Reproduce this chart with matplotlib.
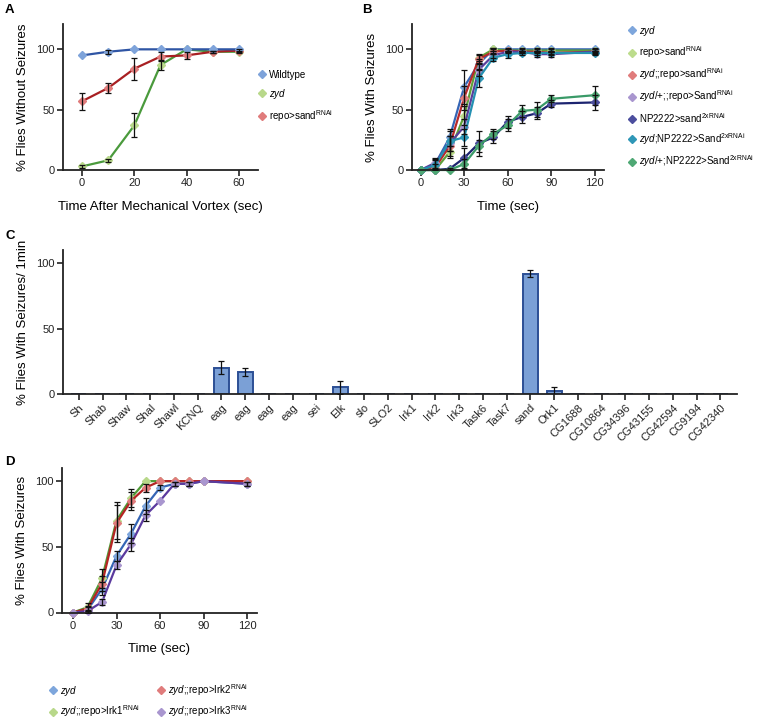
import matplotlib
matplotlib.use("Agg")
import matplotlib.pyplot as plt
from matplotlib.lines import Line2D
import numpy as np

plt.rcParams['font.family'] = ['Liberation Sans', 'DejaVu Sans']
plt.rcParams['mathtext.fontset'] = 'custom'
plt.rcParams['mathtext.rm'] = 'Liberation Sans'
plt.rcParams['mathtext.it'] = 'Liberation Sans:italic'
plt.rcParams['mathtext.bf'] = 'Liberation Sans:bold'

# ---------------- Data ----------------
# Panel A
a_x = [0, 10, 20, 30, 40, 50, 60]
a_wt = [95, 98, 100, 100, 100, 100, 100]
a_wt_err = [0, 1.5, 0, 0, 0, 0, 0]
a_zyd = [3, 8, 37, 87, 100, 98, 98]
a_zyd_err = [1.5, 1.5, 10, 4, 0, 1, 1]
a_repo = [57, 68, 84, 94, 95, 98, 99]
a_repo_err = [7, 4.5, 9, 4, 3, 1, 1]
a_labels = ['Wildtype', r'$\mathit{zyd}$', r'repo>sand$^{\mathrm{RNAi}}$']

# Panel B
b_x = [0, 10, 20, 30, 40, 50, 60, 70, 80, 90, 120]
b_zyd = [0, 5, 27, 69, 88, 100, 100, 100, 100, 100, 100]
b_repo = [0, 0, 15, 45, 93, 100, 99, 99, 99, 99, 99]
b_zyd_repo = [0, 2, 20, 60, 92, 98, 99, 98, 98, 97, 98]
b_het_repo = [0, 6, 22, 36, 83, 95, 98, 98, 96, 96, 98]
b_np = [0, 0, 1, 10, 22, 27, 40, 44, 47, 55, 56]
b_zyd_np = [0, 4, 24, 27, 76, 93, 96, 97, 97, 97, 97]
b_het_np = [0, 0, 0, 5, 20, 30, 37, 49, 50, 59, 62]
b_zyd_err = [0, 4, 7, 14, 4, 1, 1, 1, 1, 1, 1]
b_repo_err = [0, 0, 5, 8, 3, 1, 1, 1, 1, 1, 1]
b_zyd_repo_err = [0, 3, 8, 10, 3, 2, 1, 1, 1, 1, 1]
b_het_repo_err = [0, 4, 6, 6, 5, 2, 1, 1, 2, 2, 2]
b_np_err = [0, 0, 1, 8, 10, 5, 5, 5, 5, 3, 6]
b_zyd_np_err = [0, 4, 8, 7, 7, 3, 3, 2, 2, 2, 2]
b_het_np_err = [0, 0, 0, 4, 5, 4, 5, 5, 6, 3, 8]
b_labels = [r'$\mathit{zyd}$',
            r'repo>sand$^{\mathrm{RNAi}}$',
            r'$\mathit{zyd}$;;repo>sand$^{\mathrm{RNAi}}$',
            r'$\mathit{zyd/}$+;;repo>Sand$^{\mathrm{RNAi}}$',
            r'NP2222>sand$^{\mathrm{2xRNAi}}$',
            r'$\mathit{zyd}$;NP2222>Sand$^{\mathrm{2xRNAi}}$',
            r'$\mathit{zyd/}$+;NP2222>Sand$^{\mathrm{2xRNAi}}$']

# Panel C
c_genes = ['Sh', 'Shab', 'Shaw', 'Shal', 'Shawl', 'KCNQ', 'eag', 'eag', 'eag', 'eag',
           'sei', 'Elk', 'slo', 'SLO2', 'Irk1', 'Irk2', 'Irk3', 'Task6', 'Task7', 'sand',
           'Ork1', 'CG1688', 'CG10864', 'CG34396', 'CG43155', 'CG42594', 'CG9194', 'CG42340']
c_vals = [0, 0, 0, 0, 0, 0, 20, 17, 0, 0, 0, 5, 0, 0, 0, 0, 0, 0, 0, 92,
          2, 0, 0, 0, 0, 0, 0, 0]
c_err = [0, 0, 0, 0, 0, 0, 5, 3, 0, 0, 0, 5, 0, 0, 0, 0, 0, 0, 0, 3,
         3, 0, 0, 0, 0, 0, 0, 0]

# Panel D
d_x = [0, 10, 20, 30, 40, 50, 60, 70, 80, 90, 120]
d_zyd = [0, 2, 18, 43, 60, 81, 95, 98, 98, 100, 98]
d_zyd_err = [0, 2, 5, 4, 7, 6, 2, 1.5, 1.5, 0, 1.5]
d_irk1 = [0, 4, 26, 70, 87, 100, 100, 100, 100, 100, 100]
d_irk1_err = [0, 3, 7, 14, 7, 0, 0, 0, 0, 0, 0]
d_irk2 = [0, 3, 22, 68, 85, 95, 100, 100, 100, 100, 100]
d_irk2_err = [0, 2, 6, 14, 7, 3, 0, 0, 0, 0, 0]
d_irk3 = [0, 1, 8, 36, 52, 74, 85, 98, 98, 100, 98]
d_irk3_err = [0, 1, 2, 3, 5, 4, 0, 1.5, 1.5, 0, 1.5]
d_labels = [r'$\mathit{zyd}$', r'$\mathit{zyd}$;;repo>Irk1$^{\mathrm{RNAi}}$',
            r'$\mathit{zyd}$;;repo>Irk2$^{\mathrm{RNAi}}$', r'$\mathit{zyd}$;;repo>Irk3$^{\mathrm{RNAi}}$']

# ---------------- Figure ----------------
W, H = 763, 725
fig = plt.figure(figsize=(W / 100, H / 100), dpi=100)


def px_axes(l, r, t, b):
    return fig.add_axes([l / W, 1 - b / H, (r - l) / W, (b - t) / H])


TICK_FS = 8
LABEL_FS = 9.5
LEG_FS = 7


def style(ax):
    for s in ['top', 'right']:
        ax.spines[s].set_visible(False)
    for s in ['left', 'bottom']:
        ax.spines[s].set_linewidth(1.3)
        ax.spines[s].set_color('#222222')
    ax.tick_params(direction='out', length=4, width=1.2, labelsize=TICK_FS,
                   colors='#222222', pad=2)


def series(ax, x, y, err, line_c, mark_c, z=2):
    ax.plot(x, y, color=line_c, lw=1.6, marker='D', ms=3.8, mfc=mark_c, mec=mark_c,
            zorder=z, clip_on=False)
    e = np.array(err, dtype=float)
    mask = e > 0
    xs = np.array(x)[mask]
    ys = np.array(y)[mask]
    ax.errorbar(xs, ys, yerr=e[mask], fmt='none', ecolor='#111111', elinewidth=0.9,
                capsize=2, capthick=0.9, zorder=z + 5)


def marker_handle(c):
    return Line2D([], [], ls='none', marker='D', ms=4.2, mfc=c, mec=c)


# Panel A
axA = px_axes(63, 258, 24, 170)
style(axA)
cA = [('#2f55a4', '#7ea3da'), ('#4a9a3c', '#b8d88a'), ('#a81f22', '#e07c7c')]
series(axA, a_x, a_wt, a_wt_err, *cA[0], z=3)
series(axA, a_x, a_zyd, a_zyd_err, *cA[1], z=2)
series(axA, a_x, a_repo, a_repo_err, *cA[2], z=2)
axA.set_xlim(-7.3, 67.3)
axA.set_ylim(0, 121)
axA.set_xticks([0, 20, 40, 60])
axA.set_yticks([0, 50, 100])
axA.set_xlabel('Time After Mechanical Vortex (sec)', fontsize=LABEL_FS, labelpad=9)
axA.set_ylabel('% Flies Without Seizures', fontsize=LABEL_FS, labelpad=5)
fig.legend([marker_handle(c[1]) for c in cA], a_labels, loc='upper left',
           bbox_to_anchor=(248 / W, 1 - 61 / H), frameon=False, fontsize=LEG_FS,
           handlelength=1.0, handletextpad=0.3, labelspacing=0.72)

# Panel B
axB = px_axes(412, 604, 24, 170)
style(axB)
cB = [('#3565b5', '#7ea6dc'),
      ('#5fa03a', '#bcdc8c'),
      ('#b82a2a', '#e07c7c'),
      ('#5a3f9c', '#a996cf'),
      ('#1d2470', '#4c4e9e'),
      ('#2490b2', '#2f97b7'),
      ('#3a9a68', '#4ea874')]
b_series = [(b_zyd, b_zyd_err), (b_repo, b_repo_err), (b_zyd_repo, b_zyd_repo_err),
            (b_het_repo, b_het_repo_err), (b_np, b_np_err), (b_zyd_np, b_zyd_np_err),
            (b_het_np, b_het_np_err)]
for (yv, ev), (lc, mc) in zip(b_series, cB):
    series(axB, b_x, yv, ev, lc, mc)
axB.set_xlim(-6, 126.4)
axB.set_ylim(0, 121)
axB.set_xticks([0, 30, 60, 90, 120])
axB.set_yticks([0, 50, 100])
axB.set_xlabel('Time (sec)', fontsize=LABEL_FS, labelpad=9)
axB.set_ylabel('% Flies With Seizures', fontsize=LABEL_FS, labelpad=5)
fig.legend([marker_handle(c[1]) for c in cB], b_labels, loc='upper left',
           bbox_to_anchor=(618 / W, 1 - 15 / H), frameon=False, fontsize=LEG_FS,
           handlelength=1.0, handletextpad=0.3, labelspacing=0.66)

# Panel C
axC = px_axes(63, 737, 250, 394)
style(axC)
xc = np.arange(len(c_genes))
axC.bar(xc, c_vals, width=0.63, color='#7ba0d6', edgecolor='#2c4f95', linewidth=1.4,
        zorder=2)
errc = np.array(c_err, dtype=float)
m = errc > 0
axC.errorbar(xc[m], np.array(c_vals)[m], yerr=errc[m], fmt='none', ecolor='#111111',
             elinewidth=0.9, capsize=2, capthick=0.9, zorder=4)
axC.set_xlim(-0.67, 27.7)
axC.set_ylim(0, 110)
axC.set_xticks(xc)
axC.set_xticklabels(c_genes, rotation=45, ha='right', rotation_mode='anchor')
axC.set_yticks([0, 50, 100])
axC.set_ylabel('% Flies With Seizures/ 1min', fontsize=LABEL_FS, labelpad=5)

# Panel D
axD = px_axes(62, 257, 468, 612.5)
style(axD)
cD = [('#3565b5', '#7ea6dc'), ('#4f9a36', '#b8d88a'), ('#b52424', '#e07c7c'),
      ('#5b3a9e', '#a996cf')]
d_series = [(d_zyd, d_zyd_err), (d_irk1, d_irk1_err), (d_irk2, d_irk2_err),
            (d_irk3, d_irk3_err)]
for (yv, ev), (lc, mc) in zip(d_series, cD):
    series(axD, d_x, yv, ev, lc, mc)
axD.set_xlim(-7.6, 126.9)
axD.set_ylim(0, 110)
axD.set_xticks([0, 30, 60, 90, 120])
axD.set_yticks([0, 50, 100])
axD.set_xlabel('Time (sec)', fontsize=LABEL_FS, labelpad=9)
axD.set_ylabel('% Flies With Seizures', fontsize=LABEL_FS, labelpad=5)
# legend order: column 1 = zyd, Irk1; column 2 = Irk2, Irk3
fig.legend([marker_handle(cD[i][1]) for i in range(4)], d_labels, loc='upper left',
           bbox_to_anchor=(39 / W, 1 - 673 / H), frameon=False, fontsize=LEG_FS,
           handlelength=1.0, handletextpad=0.3, labelspacing=0.6, ncol=2,
           columnspacing=1.6)

# Panel letters
for lab, (x, y) in zip('ABCD', [(5, 10), (362, 10), (5, 236), (5, 462)]):
    fig.text(x / W, 1 - y / H, lab, fontsize=9.5, fontweight='bold', va='center',
             ha='left')

fig.savefig('out.png', dpi=100)
